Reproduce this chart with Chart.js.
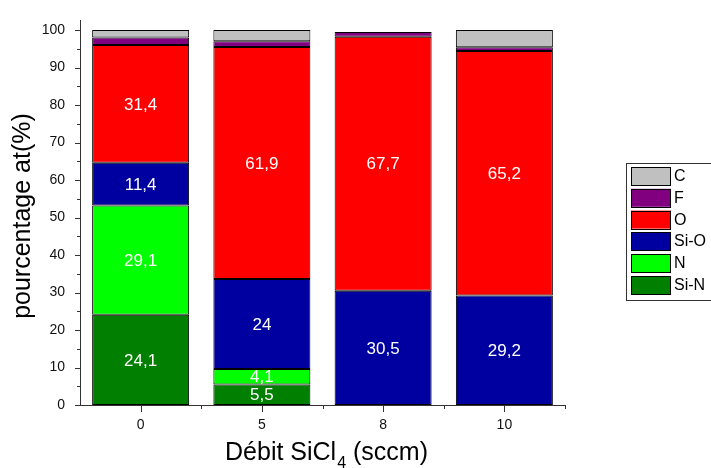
<!DOCTYPE html>
<html>
<head>
<meta charset="utf-8">
<script src="https://cdn.jsdelivr.net/npm/chart.js@4.4.1/dist/chart.umd.min.js"></script>
<style>
  body { margin: 0; background: #fff; }
  canvas { display: block; }
</style>
</head>
<body>
<canvas id="myChart" width="711" height="468"></canvas>
<script>
// Débit SiCl4 (sccm)
const categories = ['0', '5', '8', '10'];

// stacked from bottom to top
const siN = [24.1, 5.5, null, null];
const nitrogen = [29.1, 4.1, null, null];
const siO = [11.4, 24, 30.5, 29.2];
const oxygen = [31.4, 61.9, 67.7, 65.2];
const fluor = [2.0, 1.5, 1.3, 1.0];
const carbon = [2.0, 3.0, null, 4.6];

const yTicks = [0, 10, 20, 30, 40, 50, 60, 70, 80, 90, 100];
const withValues = ['Si-N', 'N', 'Si-O', 'O'];

const FONT = '"Liberation Sans", Arial, sans-serif';
Chart.defaults.font.family = FONT;

// values written inside the bars
const valueLabels = {
    id: 'valueLabels',
    afterDatasetsDraw(chart) {
        const ctx = chart.ctx;
        ctx.save();
        ctx.fillStyle = '#fff';
        ctx.font = '17px ' + FONT;
        ctx.textAlign = 'center';
        ctx.textBaseline = 'middle';
        chart.data.datasets.forEach((ds, d) => {
            if (!withValues.includes(ds.label)) return;
            chart.getDatasetMeta(d).data.forEach((bar, i) => {
                const v = ds.data[i];
                if (v == null) return;
                ctx.fillText(String(v).replace('.', ','), bar.x, (bar.y + bar.base) / 2 + 1);
            });
        });
        ctx.restore();
    }
};

// tick marks, axis titles and boxed legend
const decorations = {
    id: 'decorations',
    afterDraw(chart) {
        const ctx = chart.ctx;
        const x = chart.scales.x, y = chart.scales.y;
        const area = chart.chartArea;
        ctx.save();
        ctx.strokeStyle = '#333';
        ctx.lineWidth = 1;
        ctx.beginPath();
        for (let v = 0; v <= 100; v += 5) {
            const py = Math.round(y.getPixelForValue(v)) + 0.5;
            const len = v % 10 === 0 ? 5 : 3;
            ctx.moveTo(area.left - len, py);
            ctx.lineTo(area.left, py);
        }
        const w = (area.right - area.left) / categories.length;
        categories.forEach((c, i) => {
            const px = Math.round(x.getPixelForTick(i)) + 0.5;
            ctx.moveTo(px, area.bottom);
            ctx.lineTo(px, area.bottom + 7);
            const bx = Math.round(area.left + (i + 1) * w) + 0.5;
            ctx.moveTo(bx, area.bottom);
            ctx.lineTo(bx, area.bottom + 4);
        });
        ctx.stroke();

        // y title
        ctx.fillStyle = '#000';
        ctx.font = '25px ' + FONT;
        ctx.textAlign = 'center';
        ctx.textBaseline = 'middle';
        ctx.save();
        ctx.translate(23, 216);
        ctx.rotate(-Math.PI / 2);
        ctx.fillText('pourcentage at(%)', 0, 0);
        ctx.restore();

        // x title with subscript
        const p1 = 'Débit SiCl', p2 = '4', p3 = ' (sccm)';
        ctx.textAlign = 'left';
        ctx.textBaseline = 'alphabetic';
        ctx.font = '25px ' + FONT;
        const w1 = ctx.measureText(p1).width, w3 = ctx.measureText(p3).width;
        ctx.font = '16px ' + FONT;
        const w2 = ctx.measureText(p2).width;
        const tx = 326 - (w1 + w2 + w3) / 2;
        const base = 460;
        ctx.font = '25px ' + FONT;
        ctx.fillText(p1, tx, base);
        ctx.font = '16px ' + FONT;
        ctx.fillText(p2, tx + w1 + 1, base + 8);
        ctx.font = '25px ' + FONT;
        ctx.fillText(p3, tx + w1 + w2 + 1, base);

        // legend
        ctx.strokeStyle = '#333';
        ctx.strokeRect(626.5, 163.5, 100, 137);
        ctx.font = '16px ' + FONT;
        ctx.textBaseline = 'middle';
        const sets = chart.data.datasets.slice().reverse();
        sets.forEach((ds, i) => {
            const top = 167 + i * 21.8;
            ctx.fillStyle = ds.backgroundColor;
            ctx.fillRect(631, top, 40, 18);
            ctx.strokeStyle = '#000';
            ctx.strokeRect(631.5, Math.round(top) + 0.5, 39, 18);
            ctx.fillStyle = '#000';
            ctx.fillText(ds.label, 674, top + 9.5);
        });
        ctx.restore();
    }
};

function ds(label, data, color) {
    return {
        label: label,
        data: data,
        backgroundColor: color,
        borderColor: '#000',
        borderWidth: 1,
        borderSkipped: false,
        categoryPercentage: 1,
        barPercentage: 0.8
    };
}

new Chart(document.getElementById('myChart').getContext('2d'), {
    type: 'bar',
    data: {
        labels: categories,
        datasets: [
            ds('Si-N', siN, '#007F00'),
            ds('N', nitrogen, '#00FF00'),
            ds('Si-O', siO, '#0000A0'),
            ds('O', oxygen, '#FF0000'),
            ds('F', fluor, '#800080'),
            ds('C', carbon, '#C0C0C0')
        ]
    },
    options: {
        responsive: false,
        animation: false,
        devicePixelRatio: 1,
        layout: { padding: { top: 20, right: 146, left: 0, bottom: 0 } },
        plugins: {
            legend: { display: false },
            tooltip: { enabled: false }
        },
        scales: {
            x: {
                stacked: true,
                offset: true,
                grid: { display: false },
                border: { color: '#333', width: 1 },
                ticks: { color: '#111', font: { size: 14 }, padding: 4, maxRotation: 0 },
                afterFit: s => { s.height = 63; }
            },
            y: {
                stacked: true,
                min: 0,
                max: 102.67,
                afterBuildTicks: axis => { axis.ticks = yTicks.map(v => ({ value: v })); },
                grid: { display: false },
                border: { color: '#333', width: 1 },
                ticks: { color: '#111', font: { size: 14 }, padding: 7 },
                afterFit: s => { s.width = 80; }
            }
        }
    },
    plugins: [valueLabels, decorations]
});
</script>
</body>
</html>
